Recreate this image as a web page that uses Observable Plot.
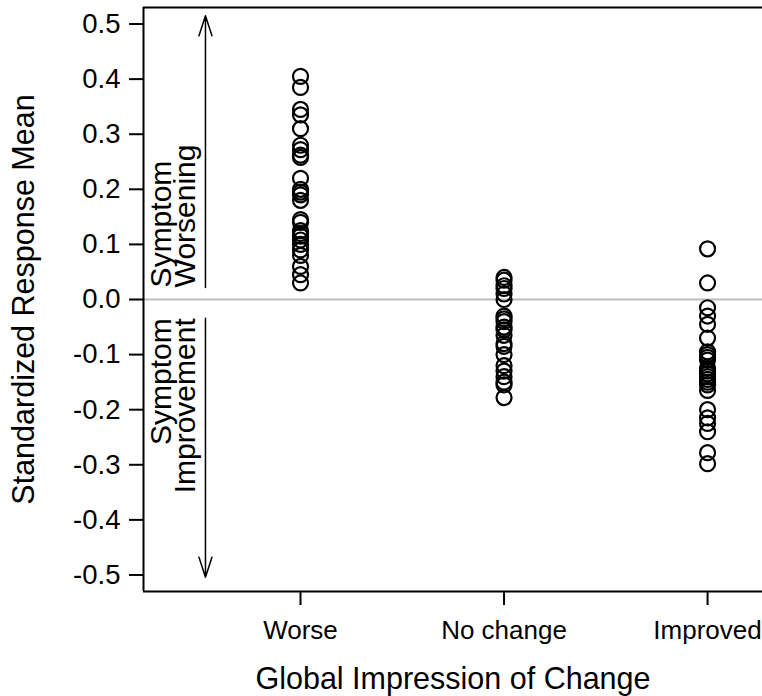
<!DOCTYPE html>
<html><head><meta charset="utf-8">
<script src="https://cdn.jsdelivr.net/npm/d3@7"></script>
<script src="https://cdn.jsdelivr.net/npm/@observablehq/plot@0.6"></script>
<style>body{margin:0;background:#fff} svg{display:block}</style>
</head><body><div id="chart"></div>
<script>
// ---- data ----
const categories = ["Worse", "No change", "Improved"];
const worse = [0.405, 0.385, 0.345, 0.335, 0.31, 0.28, 0.272, 0.262, 0.258, 0.22, 0.2, 0.195, 0.19, 0.18, 0.145, 0.14, 0.125, 0.12, 0.115, 0.108, 0.1, 0.09, 0.08, 0.06, 0.045, 0.03];
const noChange = [0.04, 0.035, 0.025, 0.02, 0.01, 0.0, -0.03, -0.035, -0.04, -0.05, -0.055, -0.065, -0.08, -0.085, -0.1, -0.12, -0.13, -0.14, -0.15, -0.155, -0.178];
const improved = [0.092, 0.03, -0.015, -0.03, -0.045, -0.07, -0.095, -0.1, -0.105, -0.11, -0.125, -0.13, -0.135, -0.14, -0.145, -0.15, -0.155, -0.165, -0.2, -0.215, -0.225, -0.24, -0.278, -0.298];
const yTicks = [-0.5, -0.4, -0.3, -0.2, -0.1, 0, 0.1, 0.2, 0.3, 0.4, 0.5];
const xTitle = "Global Impression of Change";
const yTitle = "Standardized Response Mean";
const annotLabels = ["Symptom\nWorsening", "Symptom\nImprovement"];
const arrowStart = [0.022, -0.034];
const arrowEnd = [0.515, -0.504];

// ---- build table ----
const series = [worse, noChange, improved];
const points = series.flatMap((vals, i) => vals.map(v => ({group: i + 1, value: v})));
const arrows = arrowStart.map((s, i) => ({y1: s, y2: arrowEnd[i], label: annotLabels[i]}));

const xDomain = [0.2285, 3.27];
const yDomain = [-0.53, 0.53];
const arrowX = 0.533;
const labelX = 0.386;

const chart = Plot.plot({
  width: 762,
  height: 696,
  marginTop: 7,
  marginBottom: 105,
  marginLeft: 143,
  marginRight: 0,
  x: {type: "linear", domain: xDomain},
  y: {domain: yDomain},
  style: {fontFamily: "'Liberation Sans', Arial, sans-serif", fontSize: "27.5px", color: "#000", background: "#fff"},
  marks: [
    Plot.ruleY([0], {stroke: "#bdbdbd", strokeWidth: 2}),
    Plot.axisY({ticks: yTicks, tickFormat: d => d.toFixed(1), tickSize: 14, tickPadding: 9, strokeWidth: 2, label: null, fontSize: 27.5}),
    Plot.axisX({ticks: [1, 2, 3], tickFormat: d => categories[d - 1], tickSize: 14, tickPadding: 15, strokeWidth: 2, label: null, fontSize: 26}),
    Plot.ruleX([xDomain[0]], {stroke: "#000", strokeWidth: 2}),
    Plot.ruleY(yDomain, {stroke: "#000", strokeWidth: 2}),
    Plot.arrow(arrows, {x: () => arrowX, y1: "y1", y2: "y2", stroke: "#000", strokeWidth: 1.5, headAngle: 36, headLength: 21}),
    Plot.text(arrows.slice(0, 1), {x: () => labelX, y: "y1", text: "label", rotate: -90, textAnchor: "start", lineAnchor: "middle", lineHeight: 0.8, fontSize: 30, fill: "#000"}),
    Plot.text(arrows.slice(1, 2), {x: () => labelX, y: "y1", text: "label", rotate: -90, textAnchor: "end", lineAnchor: "middle", lineHeight: 0.8, fontSize: 30, fill: "#000"}),
    Plot.dot(points, {x: "group", y: "value", r: 7.5, stroke: "#000", strokeWidth: 2.2, fill: "none"}),
    Plot.text([xTitle], {frameAnchor: "bottom", dy: 76, lineAnchor: "top", fontSize: 30.5, fill: "#000"}),
    Plot.text([yTitle], {frameAnchor: "left", dx: -131, rotate: -90, textAnchor: "middle", lineAnchor: "top", fontSize: 30.5, fill: "#000"})
  ]
});
document.getElementById("chart").appendChild(chart);
</script>
</body></html>
